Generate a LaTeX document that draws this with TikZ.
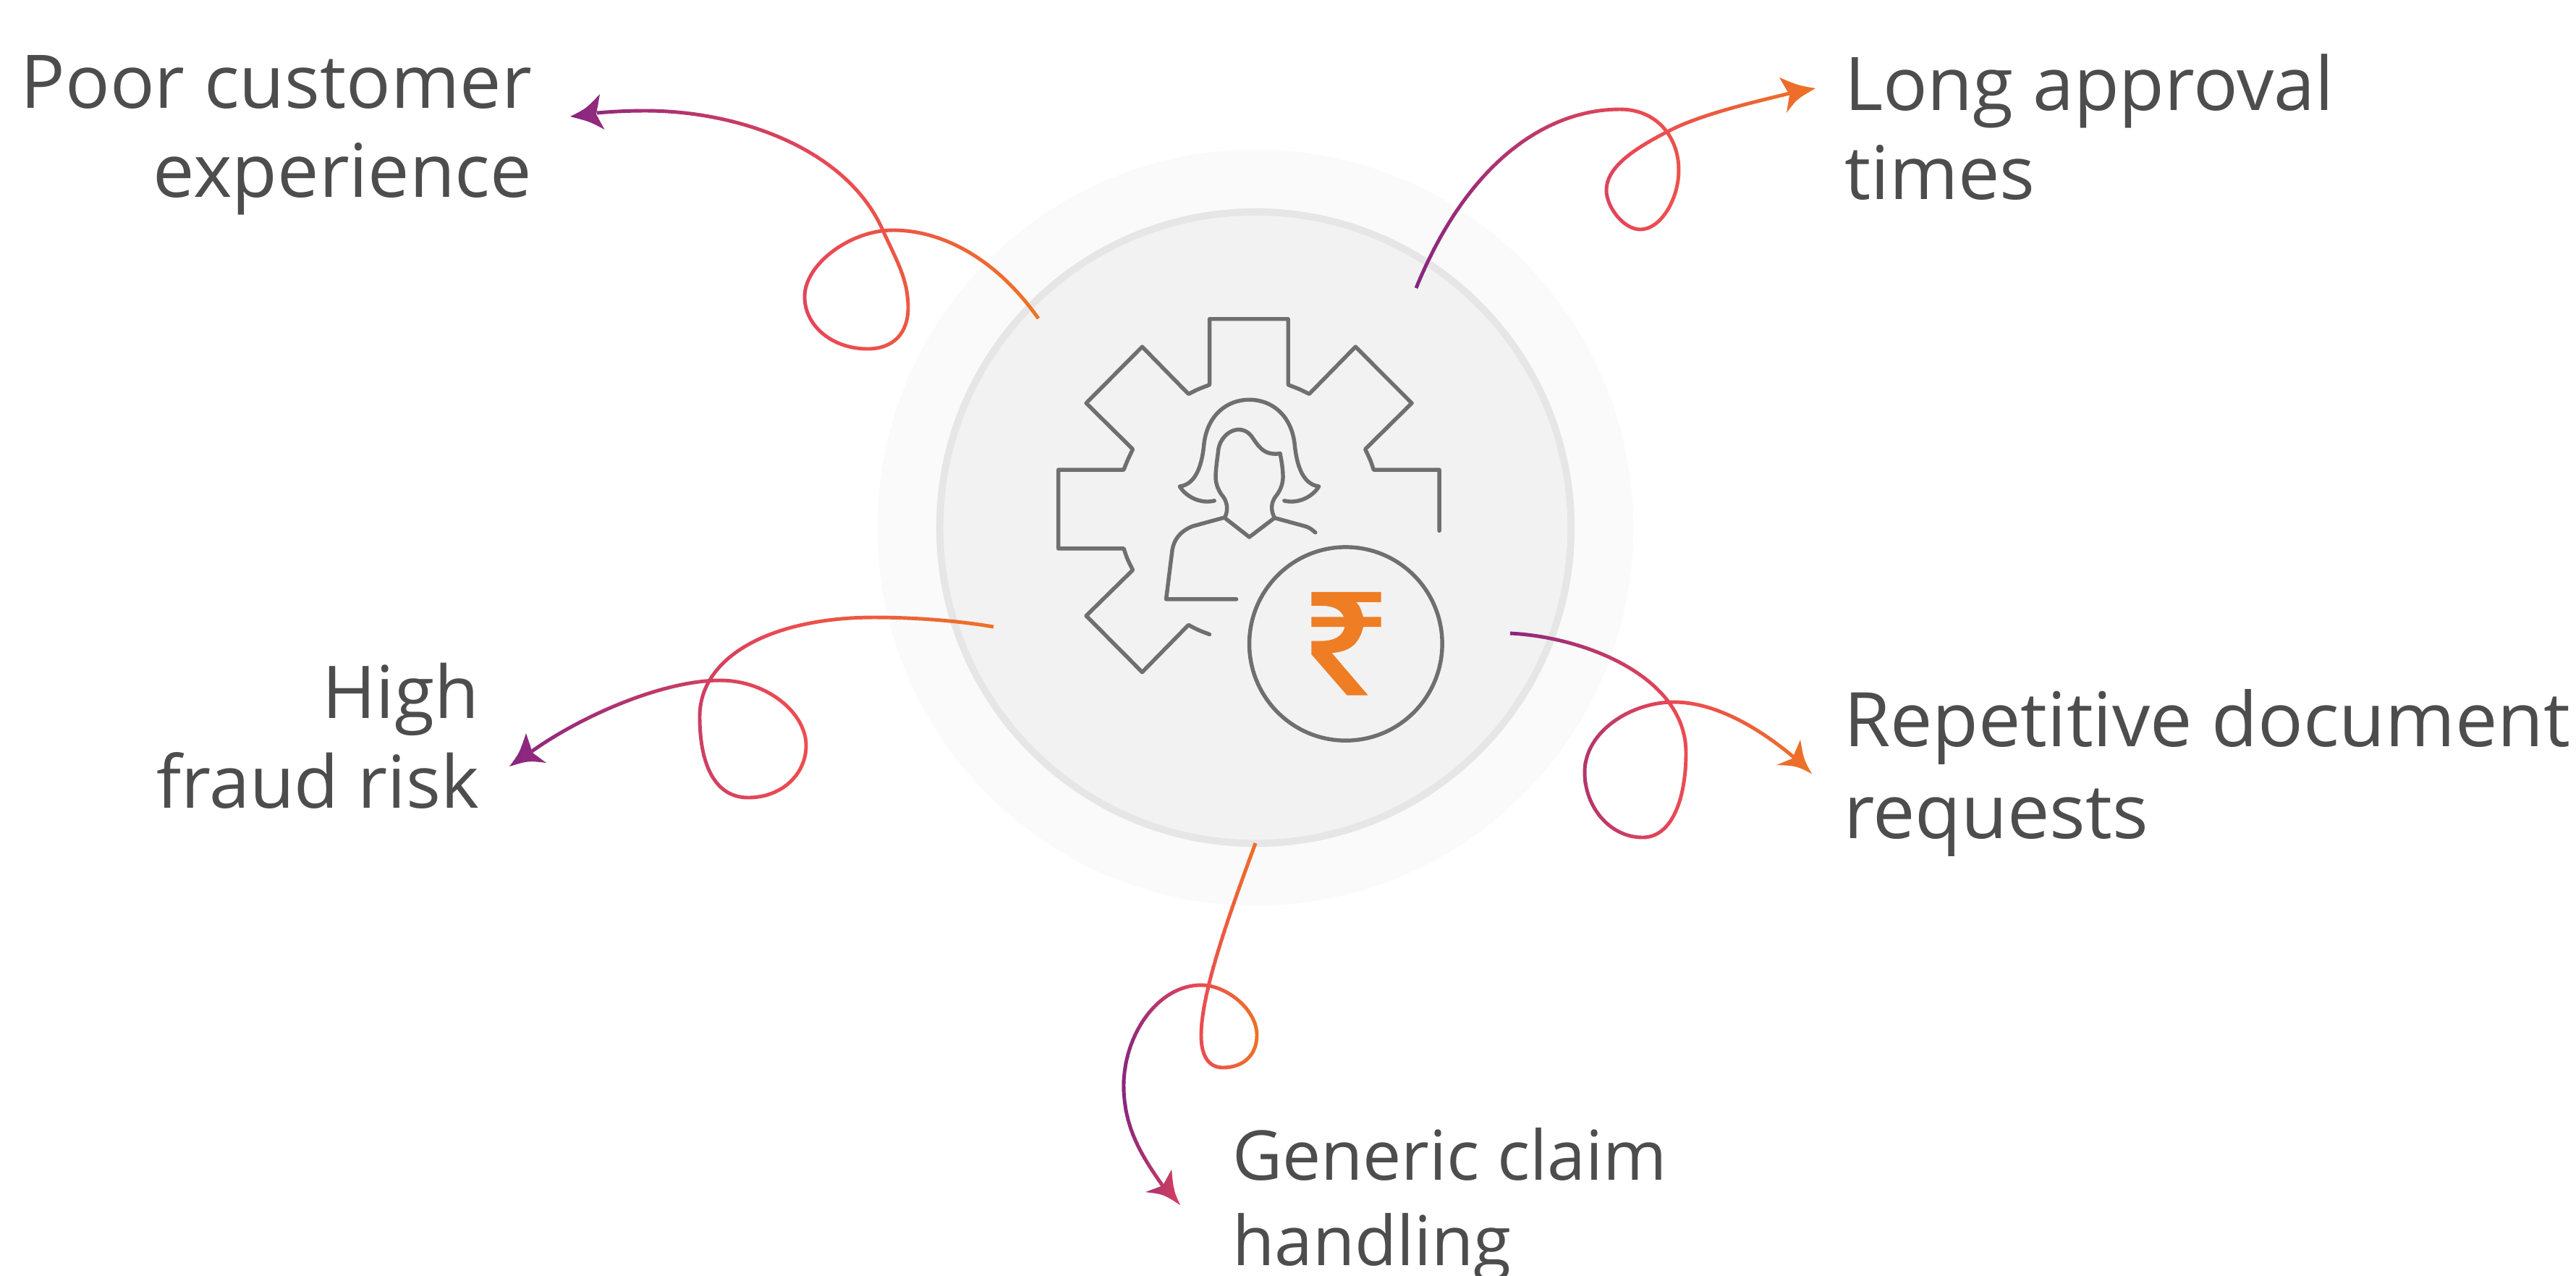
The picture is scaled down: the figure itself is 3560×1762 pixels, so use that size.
\documentclass[tikz,border=0pt]{standalone}
\usepackage{fontspec}
\setmainfont{Open Sans}
\definecolor{gpurple}{HTML}{862581}
\definecolor{gred}{HTML}{EA4955}
\definecolor{gorange}{HTML}{EE7423}
\definecolor{iconline}{HTML}{706F6F}
\definecolor{rupee}{HTML}{EF7D24}
\definecolor{labeltext}{HTML}{4D4D4D}
\tikzset{
  label text/.style 2 args={text=labeltext,inner sep=0pt,outer sep=0pt,font=\fontsize{#1}{#2}\selectfont},
  icon line/.style={draw=iconline,line width=1.55pt,line join=round,line cap=round}
}
% #1 left x, #2 right x, #3 line path, #4 head path: stroke with a horizontal gradient, in strips
\newcommand{\gradconn}[4]{%
  \foreach \i in {0,...,59}{%
    \pgfmathsetmacro\xa{#1+(#2-#1)*(\i/60)}%
    \pgfmathsetmacro\xb{#1+(#2-#1)*((\i+1)/60)+0.5}%
    \pgfmathsetmacro\tpos{(\i+0.5)/60}%
    \pgfmathtruncatemacro\seg{\tpos<0.55?1:0}%
    \ifnum\seg=1
      \pgfmathsetmacro\vv{100*\tpos/0.55}%
      \colorlet{strip}{gred!\vv!gpurple}%
    \else
      \pgfmathsetmacro\vv{100*(\tpos-0.55)/0.45}%
      \colorlet{strip}{gorange!\vv!gred}%
    \fi
    \begin{scope}
      \clip (\xa,0) rectangle (\xb,1762);
      \draw[strip,line width=1.4pt] #3;
      \fill[strip] #4;
    \end{scope}
  }%
}
\begin{document}
\begin{tikzpicture}[x=0.01cm,y=-0.01cm]
\useasboundingbox (0,0) rectangle (3560,1762);
\fill[white] (0,0) rectangle (3560,1762);
\node[circle,fill={rgb,255:red,250;green,250;blue,250},minimum size=10.44cm,inner sep=0pt,outer sep=0pt] (halo) at (1735,729) {};
\node[circle,fill={rgb,255:red,242;green,242;blue,242},draw={rgb,255:red,230;green,230;blue,230},line width=2.8pt,minimum size=8.72cm,inner sep=0pt,outer sep=0pt] (disc) at (1735,729) {};

% icon, in zoom coordinates
\begin{scope}[shift={(1400,400)},x=0.0044643cm,y=-0.003954cm]
  \draw[icon line] (1317,843) -- (1317,630) -- (1114,630) .. controls (1105,598) .. (1088,558) -- (1232,397) -- (1058,200) -- (915,365) .. controls (885,348) .. (850,333) -- (850,103) -- (607,103) -- (607,333) .. controls (572,348) .. (542,365) -- (399,200) -- (226,397) -- (370,558) .. controls (353,598) .. (342,630) -- (140,630) -- (140,905) -- (342,905) .. controls (353,942) .. (370,980) -- (226,1140) -- (399,1337) -- (542,1172) .. controls (572,1190) .. (607,1205);
  % hair
  \draw[icon line] (622,738) .. controls (580,750) and (535,725) .. (515,688) .. controls (570,680) and (585,600) .. (590,540) .. controls (600,440) and (660,385) .. (730,385) .. controls (800,385) and (860,440) .. (870,540) .. controls (875,600) and (890,680) .. (945,688) .. controls (925,725) and (880,750) .. (838,738);
  % face
  \draw[icon line] (825,573) .. controls (770,582) and (755,540) .. (735,510) .. controls (700,465) and (645,500) .. (635,555) .. controls (630,600) and (626,630) .. (626,655) .. controls (626,680) and (635,705) .. (650,725) .. controls (662,745) and (665,770) .. (655,795);
  \draw[icon line] (808,798) .. controls (795,770) and (798,745) .. (810,725) .. controls (825,705) and (834,680) .. (834,655) .. controls (834,630) and (830,600) .. (825,573);
  \draw[icon line] (653,797) -- (730,865) -- (808,798);
  % shoulders
  \draw[icon line] (652,797) -- (555,827) .. controls (515,845) and (497,875) .. (492,910) -- (473,1082) -- (690,1082);
  \draw[icon line] (808,798) -- (905,828) .. controls (918,834) .. (934,849);
  % coin
  \draw[icon line] (1028,1238) ellipse [x radius=298,y radius=338];
  % rupee
  \fill[rupee] (922,1057) -- (1137,1057) -- (1137,1092) -- (1060,1092) .. controls (1072,1108) .. (1082,1144) -- (1137,1144) -- (1137,1179) -- (1082,1179) .. controls (1068,1245) and (1035,1265) .. (985,1270) -- (1097,1418) -- (1032,1418) -- (922,1275) -- (922,1228) -- (950,1228) .. controls (995,1228) and (1018,1210) .. (1025,1179) -- (922,1179) -- (922,1144) -- (1022,1144) .. controls (1012,1118) and (990,1105) .. (950,1105) -- (922,1105) -- cycle;
\end{scope}

% labels
\node[label text={29.1}{34.7},align=right,anchor=base east] (poor) at (735,272) {Poor customer\\experience};
\node[label text={29.1}{34.7},align=left,anchor=base west] (long) at (2549,275) {Long approval\\times};
\node[label text={28.6}{35},align=right,anchor=base east] (high) at (662,1116) {High\\fraud risk};
\node[label text={29.6}{36.1},align=left,anchor=base west] (repet) at (2548,1158) {Repetitive document\\requests};
\node[label text={27}{33.3},align=left,anchor=base west] (gener) at (1703,1748) {Generic claim\\handling};

% connector end points
\coordinate (s1) at (1435,440); \coordinate (t1) at (788,161);
\coordinate (s2) at (1957,398); \coordinate (t2) at (2509,122);
\coordinate (s3) at (2087,875); \coordinate (t3) at (2504,1069);
\coordinate (s4) at (1373,866); \coordinate (t4) at (704,1059);
\coordinate (s5) at (1735,1165); \coordinate (t5) at (1631,1665);

\gradconn{782}{1441}
 {(s1) .. controls (1375,355) and (1300,318) .. (1234,318) .. controls (1175,318) and (1112,365) .. (1112,410) .. controls (1112,450) and (1150,482) .. (1199,482) .. controls (1235,482) and (1255,460) .. (1255,425) .. controls (1255,385) and (1238,358) .. (1220,318) .. controls (1170,205) and (1020,153) .. (892,153) .. controls (870,153) and (847,154) .. (825,156)}
 {(t1) .. controls (810,150) .. (829,130) -- (824,158) -- (835.5,179) .. controls (815,168) .. (t1) -- cycle}

\gradconn{1951}{2515}
 {(s2) .. controls (2030,220) and (2140,151) .. (2239,151) .. controls (2290,151) and (2320,190) .. (2320,235) .. controls (2320,275) and (2295,317) .. (2267,317) .. controls (2243,317) and (2220,285) .. (2220,263) .. controls (2220,230) and (2260,205) .. (2304,182) .. controls (2350,158) and (2420,142) .. (2473,129)}
 {(t2) .. controls (2485,118) .. (2459,107) -- (2473,131) -- (2469,156) .. controls (2483,137) .. (t2) -- cycle}

\gradconn{2081}{2510}
 {(s3) .. controls (2190,880) and (2330,935) .. (2330,1040) .. controls (2330,1105) and (2310,1157) .. (2270,1157) .. controls (2225,1157) and (2190,1115) .. (2190,1067) .. controls (2190,1010) and (2255,970) .. (2313,970) .. controls (2370,970) and (2430,1005) .. (2480,1047)}
 {(t3) .. controls (2493,1050) .. (2488,1022) -- (2477,1048) -- (2455,1057) .. controls (2482,1058) .. (t3) -- cycle}

\gradconn{698}{1379}
 {(s4) .. controls (1320,857) and (1260,853) .. (1208,853) .. controls (1070,853) and (967,905) .. (967,990) .. controls (967,1060) and (990,1102) .. (1034,1102) .. controls (1080,1102) and (1114,1070) .. (1114,1030) .. controls (1114,985) and (1060,940) .. (995,940) .. controls (920,940) and (810,985) .. (735,1038)}
 {(t4) .. controls (718,1040) .. (727,1013) -- (736,1040) -- (755,1054) .. controls (730,1051) .. (t4) -- cycle}

\gradconn{1547}{1743}
 {(s5) .. controls (1700,1260) and (1660,1370) .. (1660,1431) .. controls (1660,1455) and (1668,1475) .. (1690,1475) .. controls (1718,1475) and (1737,1458) .. (1737,1430) .. controls (1737,1395) and (1695,1361) .. (1660,1361) .. controls (1600,1361) and (1553,1430) .. (1553,1500) .. controls (1553,1560) and (1580,1600) .. (1608,1640)}
 {(t5) .. controls (1622,1645) .. (1619,1616) -- (1607,1638) -- (1583,1647) .. controls (1608,1650) .. (t5) -- cycle}
\end{tikzpicture}
\end{document}
